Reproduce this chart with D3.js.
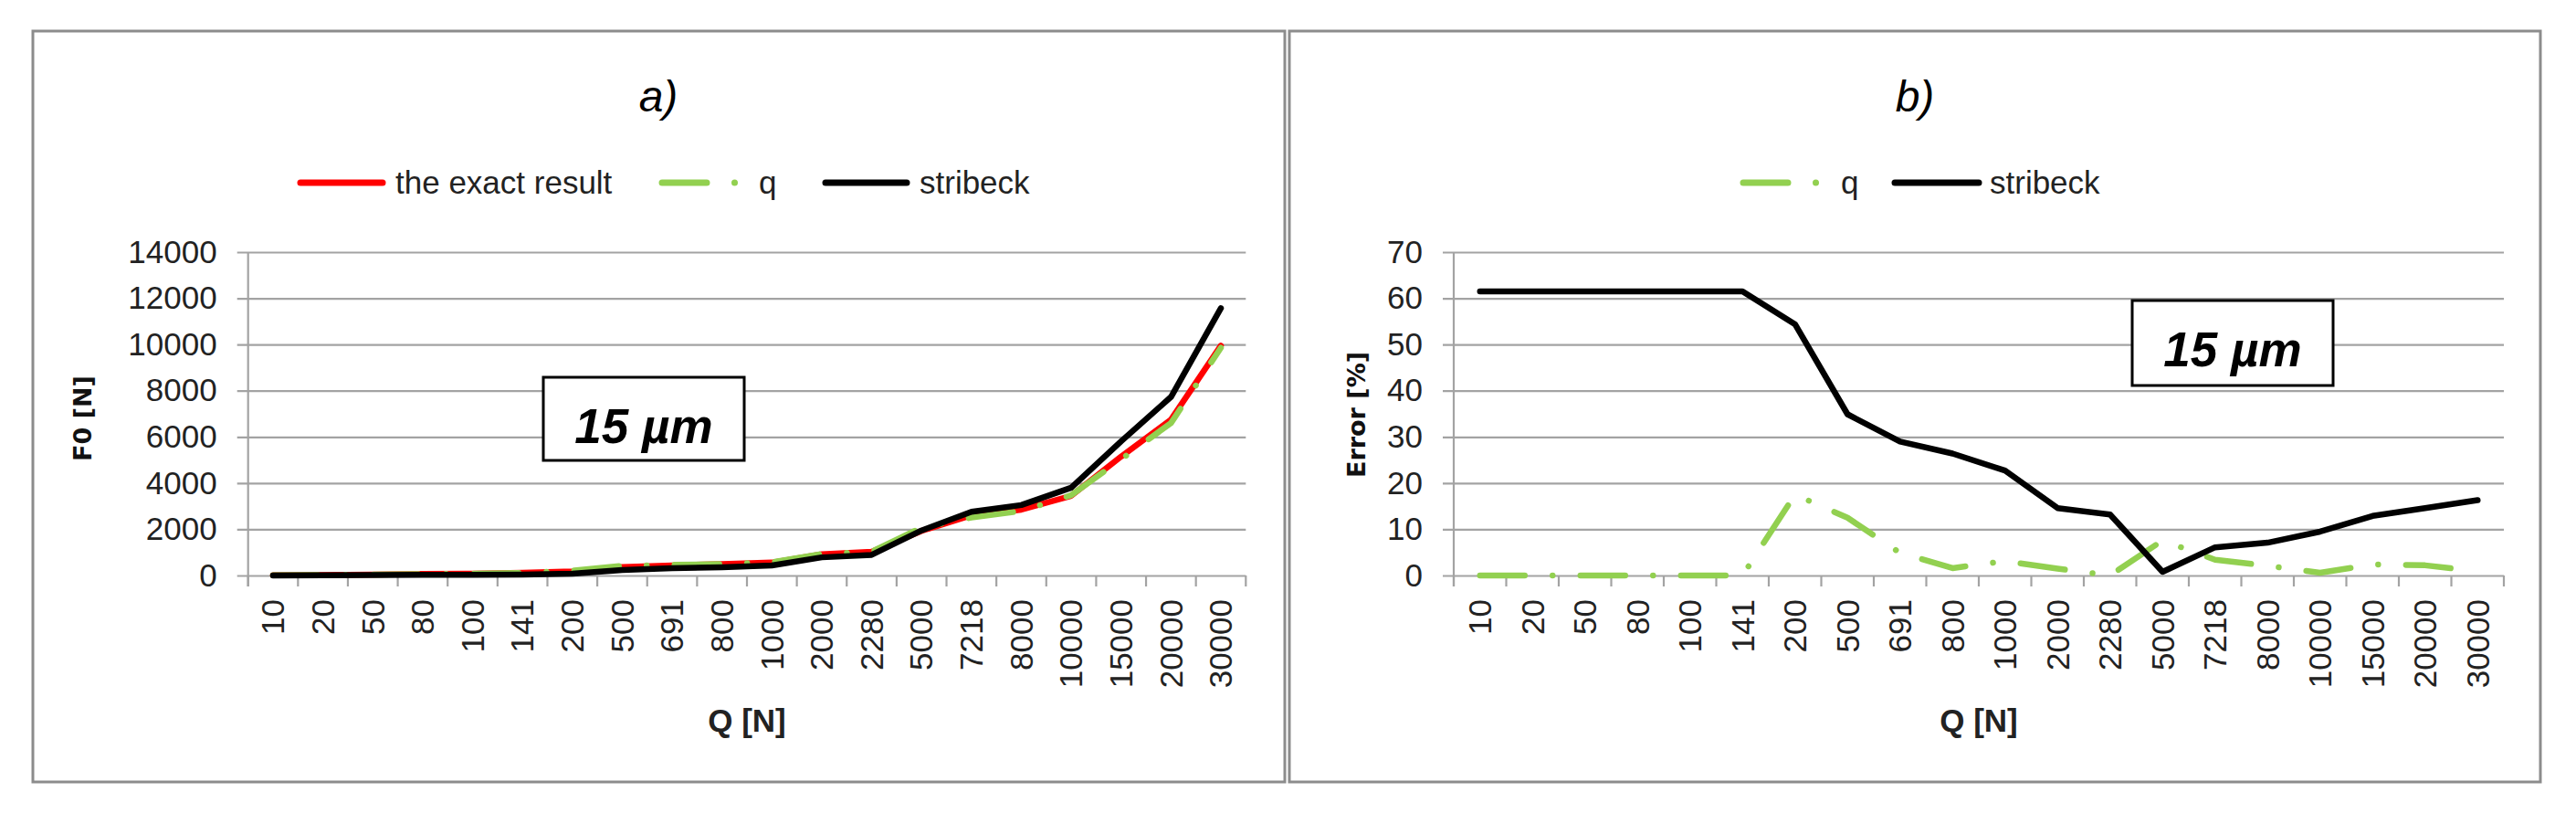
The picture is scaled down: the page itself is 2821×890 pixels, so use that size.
<!DOCTYPE html>
<html><head><meta charset="utf-8">
<script src="https://cdn.jsdelivr.net/npm/d3@7"></script>
<style>body{margin:0;background:#fff} svg{display:block}</style>
</head><body>
<svg id="chart" width="2821" height="890"></svg>
<script>
// ---------------- data ----------------
const categories = ["10","20","50","80","100","141","200","500","691","800","1000","2000","2280","5000","7218","8000","10000","15000","20000","30000"];
// panel a) F0 [N]
const exactF0    = [8, 16, 40, 65, 80, 115, 180, 370, 440, 490, 560, 920, 1030, 1930, 2600, 2850, 3450, 5150, 6750, 9950];
const qF0        = [8, 16, 40, 65, 80, 115, 212, 416, 460, 498, 577, 934, 1030, 2070, 2510, 2790, 3475, 5030, 6600, 9860];
const stribeckF0 = [3, 6, 15, 25, 31, 44, 82, 240, 312, 360, 433, 786, 894, 1950, 2760, 3050, 3800, 5810, 7730, 11570];
// panel b) Error [%]
const qError        = [0, 0, 0, 0, 0, 0, 17.5, 12.5, 4.9, 1.6, 3.1, 1.5, 0, 7.6, 3.4, 2.1, 0.6, 2.4, 2.2, 0.9];
const stribeckError = [61.5, 61.5, 61.5, 61.5, 61.5, 61.5, 54.4, 34.9, 29.0, 26.4, 22.7, 14.6, 13.2, 0.8, 6.1, 7.1, 9.5, 12.9, 14.6, 16.3];
const f0Ticks    = [0, 2000, 4000, 6000, 8000, 10000, 12000, 14000];
const errorTicks = [0, 10, 20, 30, 40, 50, 60, 70];
const seriesNamesA = ["the exact result", "q", "stribeck"];
const seriesNamesB = ["q", "stribeck"];

// ---------------- styles ----------------
const styles = {
  "the exact result": {color: "#ff0000", width: 6.5, dash: null},
  "q":                {color: "#92d050", width: 6.5, dash: "49,30.5,0.01,30.5"},
  "stribeck":         {color: "#000000", width: 6.5, dash: null}
};
const FONT = "'Liberation Sans', Arial, sans-serif";
const BOLDFONT = "'DejaVu Sans', Verdana, sans-serif";
const GRID = "#a3a3a3";

const svg = d3.select("#chart");

function panel(cfg) {
  const g = svg.append("g");
  // border
  g.append("rect").attr("x", cfg.border[0]).attr("y", cfg.border[1])
    .attr("width", cfg.border[2]).attr("height", cfg.border[3])
    .attr("fill", "#fff").attr("stroke", "#8c8c8c").attr("stroke-width", 3);

  const x = d3.scaleBand().domain(categories).range([cfg.x0, cfg.x1]).paddingInner(0).paddingOuter(0);
  const y = d3.scaleLinear().domain(cfg.domain).range([cfg.y0, cfg.y1]);

  // gridlines
  const ya = g.append("g").attr("transform", `translate(${cfg.x1},0)`)
    .call(d3.axisLeft(y).tickValues(cfg.ticks).tickSize(cfg.x1 - cfg.x0 + 12).tickFormat(""));
  ya.select(".domain").remove();
  ya.selectAll(".tick line").attr("stroke", GRID).attr("stroke-width", 2.2);
  // y tick labels
  const yl = g.append("g").attr("transform", `translate(${cfg.x0},0)`)
    .call(d3.axisLeft(y).tickValues(cfg.ticks).tickSize(0).tickPadding(34).tickFormat(d3.format("d")));
  yl.select(".domain").remove();
  yl.selectAll(".tick text").attr("font-family", FONT).attr("font-size", 35).attr("fill", "#222");

  // y axis vertical line
  g.append("line").attr("x1", cfg.x0).attr("x2", cfg.x0).attr("y1", cfg.y1).attr("y2", cfg.y0 + 12)
    .attr("stroke", GRID).attr("stroke-width", 2.2);

  // x axis ticks (between categories) and labels
  const bounds = categories.map(c => x(c)).concat([x(categories[categories.length - 1]) + x.bandwidth()]);
  g.selectAll(".xt").data(bounds).enter().append("line")
    .attr("x1", d => d).attr("x2", d => d).attr("y1", cfg.y0).attr("y2", cfg.y0 + 12)
    .attr("stroke", GRID).attr("stroke-width", 2.2);
  g.selectAll(".xl").data(categories).enter().append("text")
    .attr("transform", d => `translate(${x(d) + x.bandwidth() / 2},${cfg.y0 + 26}) rotate(-90)`)
    .attr("text-anchor", "end").attr("dy", "0.35em")
    .attr("font-family", FONT).attr("font-size", 35).attr("fill", "#222").text(d => d);

  // lines
  const line = d3.line().x((d, i) => x(categories[i]) + x.bandwidth() / 2).y(d => y(d));
  cfg.series.forEach(s => {
    const st = styles[s.name];
    g.append("path").datum(s.values).attr("d", line)
      .attr("fill", "none").attr("stroke", st.color).attr("stroke-width", st.width)
      .attr("stroke-linejoin", "round").attr("stroke-linecap", "round")
      .attr("stroke-dasharray", st.dash);
  });

  // title
  g.append("text").attr("x", cfg.titleX).attr("y", 122).attr("text-anchor", "middle")
    .attr("font-family", FONT).attr("font-style", "italic").attr("font-size", 48).attr("fill", "#000").text(cfg.title);

  // legend
  cfg.legend.forEach(l => {
    const st = styles[l.name];
    g.append("line").attr("x1", l.x).attr("x2", l.x + l.len).attr("y1", 200).attr("y2", 200)
      .attr("stroke", st.color).attr("stroke-width", 7).attr("stroke-linecap", "round")
      .attr("stroke-dasharray", st.dash);
    g.append("text").attr("x", l.tx).attr("y", 200).attr("dy", "0.35em")
      .attr("font-family", FONT).attr("font-size", 35).attr("fill", "#222").text(l.name);
  });

  // axis titles
  g.append("text").attr("transform", `translate(${cfg.yLabelX},${cfg.yLabelY}) rotate(-90)`)
    .attr("text-anchor", "middle").attr("dy", "0.35em")
    .attr("font-family", BOLDFONT).attr("font-weight", "bold").attr("font-size", 27).attr("fill", "#111")
    .text(cfg.yLabel);
  g.append("text").attr("x", (cfg.x0 + cfg.x1) / 2).attr("y", 789).attr("dy", "0.35em").attr("text-anchor", "middle")
    .attr("font-family", FONT).attr("font-weight", "bold").attr("font-size", 35).attr("fill", "#222").text("Q [N]");

  // 15 µm box
  const b = cfg.box;
  g.append("rect").attr("x", b[0]).attr("y", b[1]).attr("width", b[2]).attr("height", b[3])
    .attr("fill", "#fff").attr("stroke", "#000").attr("stroke-width", 3);
  g.append("text").attr("x", b[0] + b[2] / 2).attr("y", b[1] + 72).attr("text-anchor", "middle")
    .attr("font-family", FONT).attr("font-weight", "bold").attr("font-style", "italic").attr("font-size", 53)
    .attr("fill", "#000").text("15 µm");
}

panel({
  border: [36, 34, 1371, 822],
  x0: 271.7, x1: 1364.3, y0: 630, y1: 276, domain: [0, 14000], ticks: f0Ticks,
  series: [{name: seriesNamesA[0], values: exactF0}, {name: seriesNamesA[1], values: qF0}, {name: seriesNamesA[2], values: stribeckF0}],
  title: "a)", titleX: 721,
  legend: [
    {name: "the exact result", x: 329, len: 90, tx: 433},
    {name: "q", x: 725, len: 80, tx: 831},
    {name: "stribeck", x: 904, len: 89, tx: 1007}
  ],
  yLabel: "F0 [N]", yLabelX: 91, yLabelY: 458,
  box: [595, 413, 220, 91]
});

panel({
  border: [1412, 34, 1370, 822],
  x0: 1592, x1: 2742, y0: 630, y1: 276, domain: [0, 70], ticks: errorTicks,
  series: [{name: seriesNamesB[0], values: qError}, {name: seriesNamesB[1], values: stribeckError}],
  title: "b)", titleX: 2097,
  legend: [
    {name: "q", x: 1909, len: 80, tx: 2016},
    {name: "stribeck", x: 2075, len: 92, tx: 2179}
  ],
  yLabel: "Error [%]", yLabelX: 1486, yLabelY: 454,
  box: [2335, 329, 220, 93]
});
</script>
</body></html>
